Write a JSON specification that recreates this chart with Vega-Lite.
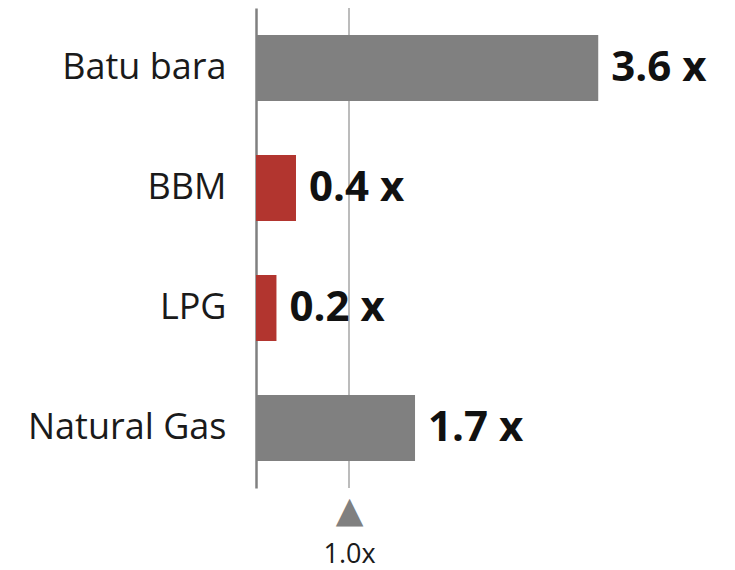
{
  "$schema": "https://vega.github.io/schema/vega-lite/v6.json",
  "autosize": "none",
  "width": 465,
  "height": 480,
  "padding": {"left": 256, "top": 8, "right": 14, "bottom": 82},
  "background": "white",
  "config": {"view": {"stroke": null}},
  "data": {
    "values": [
      {"fuel": "Batu bara", "value": 3.68, "label": "3.6 x", "kind": "high"},
      {"fuel": "BBM", "value": 0.43, "label": "0.4 x", "kind": "low"},
      {"fuel": "LPG", "value": 0.22, "label": "0.2 x", "kind": "low"},
      {"fuel": "Natural Gas", "value": 1.71, "label": "1.7 x", "kind": "high"}
    ]
  },
  "resolve": {"axis": {"x": "independent"}},
  "layer": [
    {
      "data": {"values": [{"ref": 1}]},
      "mark": {"type": "rule", "color": "#a6a6a6", "strokeWidth": 1.5},
      "encoding": {
        "x": {"field": "ref", "type": "quantitative", "scale": {"domain": [0, 5], "nice": false}, "axis": null}
      }
    },
    {
      "mark": {"type": "bar"},
      "encoding": {
        "y": {
          "field": "fuel", "type": "nominal", "sort": null,
          "scale": {"paddingInner": 0.45, "paddingOuter": 0.225},
          "axis": {"title": null, "ticks": false, "domainColor": "#808080", "domainWidth": 2.5, "labelFont": "Open Sans", "labelFontSize": 36, "labelColor": "#1a1a1a", "labelPadding": 30, "labelLimit": 300}
        },
        "x": {
          "field": "value", "type": "quantitative", "scale": {"domain": [0, 5], "nice": false},
          "axis": {"orient": "bottom", "title": null, "values": [1], "labelExpr": "'▲'", "labelFont": "DejaVu Sans", "labelFontSize": 36, "labelColor": "#808080", "ticks": false, "domain": false, "grid": false, "labelPadding": 5}
        },
        "color": {"field": "kind", "type": "nominal", "scale": {"domain": ["high", "low"], "range": ["#808080", "#B2352F"]}, "legend": null}
      }
    },
    {
      "mark": {"type": "text", "align": "left", "baseline": "middle", "dx": 13, "font": "Open Sans", "fontWeight": "bold", "fontSize": 42, "color": "#111111"},
      "encoding": {
        "y": {"field": "fuel", "type": "nominal", "sort": null},
        "x": {
          "field": "value", "type": "quantitative", "scale": {"domain": [0, 5], "nice": false},
          "axis": {"orient": "bottom", "title": null, "values": [1], "labelExpr": "'1.0x'", "labelFont": "Open Sans", "labelFontSize": 27, "labelColor": "#1a1a1a", "ticks": false, "domain": false, "grid": false, "labelPadding": 53}
        },
        "text": {"field": "label"}
      }
    }
  ]
}
